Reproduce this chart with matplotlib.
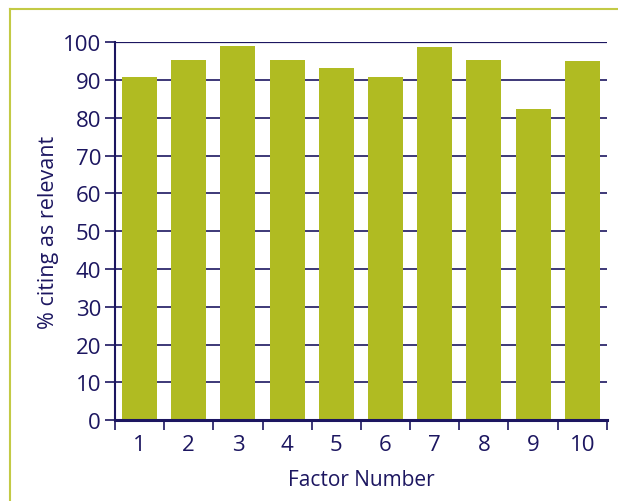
import numpy as np
import matplotlib
matplotlib.use("Agg")
import matplotlib.pyplot as plt
from matplotlib.lines import Line2D

factors = [1, 2, 3, 4, 5, 6, 7, 8, 9, 10]
percent_relevant = [90.7, 95.2, 98.9, 95.2, 93.1, 90.7, 98.7, 95.2, 82.3, 95.0]
y_ticks = [0, 10, 20, 30, 40, 50, 60, 70, 80, 90, 100]

NAVY = "#1c1660"
BAR = "#b0bb22"
FRAME = "#c3ca45"

plt.rcParams["font.family"] = ["Open Sans", "DejaVu Sans"]

fig = plt.figure(figsize=(6.18, 5.02), dpi=100)
ax = fig.add_axes([0.186, 0.161, 0.796, 0.753])

x = np.arange(len(factors))
for yv in y_ticks[1:]:
    ax.axhline(yv, color=NAVY, linewidth=1.6 if yv == 100 else 1.2, zorder=1)
ax.bar(x, percent_relevant, width=0.71, color=BAR, zorder=2)

ax.set_xlim(-0.5, len(factors) - 0.5)
ax.set_ylim(0, 100)
ax.set_yticks(y_ticks)
ax.set_xticks(np.arange(-0.5, len(factors), 1.0))
ax.set_xticklabels([])
ax.set_xticks(x, minor=True)
ax.set_xticklabels([str(f) for f in factors], minor=True)

for s in ["top", "right"]:
    ax.spines[s].set_visible(False)
ax.spines["left"].set_color(NAVY)
ax.spines["left"].set_linewidth(1.5)
ax.spines["bottom"].set_color(NAVY)
ax.spines["bottom"].set_linewidth(2.2)

ax.tick_params(axis="y", colors=NAVY, labelsize=16, length=7, width=1.2, pad=3)
ax.tick_params(axis="x", which="major", colors=NAVY, length=7, width=1.2)
ax.tick_params(axis="x", which="minor", colors=NAVY, labelsize=16, length=0, pad=10)

ax.set_ylabel("% citing as relevant", color=NAVY, fontsize=15.5, labelpad=3)
ax.set_xlabel("Factor Number", color=NAVY, fontsize=15, labelpad=10)

# light frame around the figure (top and left edges visible)
fig.add_artist(Line2D([10 / 618, 1.0], [1 - 9.5 / 502, 1 - 9.5 / 502], transform=fig.transFigure, color=FRAME, linewidth=1.5))
fig.add_artist(Line2D([10 / 618, 10 / 618], [0.0, 1 - 9.5 / 502], transform=fig.transFigure, color=FRAME, linewidth=1.5))

fig.savefig("out.png", dpi=100)
